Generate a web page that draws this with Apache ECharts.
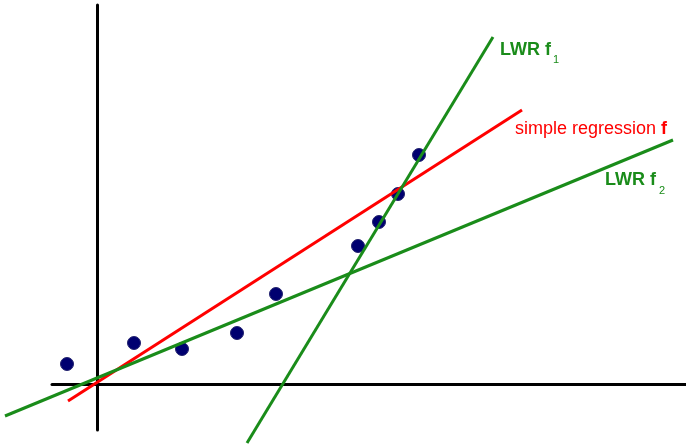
<!DOCTYPE html>
<html>
<head>
<meta charset="utf-8">
<script src="https://cdn.jsdelivr.net/npm/echarts@6/dist/echarts.min.js"></script>
<style>
  html, body { margin: 0; padding: 0; background: #ffffff; }
  #chart { width: 686px; height: 448px; }
</style>
</head>
<body>
<div id="chart"></div>
<script>
// Observed samples (x, y)
const samplePoints = [
  [-30, 20], [37, 41], [85, 35], [140, 51], [179, 90],
  [261, 138], [282, 162], [301, 190], [322, 229]
];

// Fitted lines, each given by its two end points
const simpleRegression = [[-29, -17], [425, 274]];
const lwrF1 = [[150, -59], [396, 347]];
const lwrF2 = [[-92, -32], [576, 244]];

// Drawn extent of the black axes
const xAxisRange = [-45, 589];
const yAxisRange = [-46, 379];
// Plotting extent for the marks (same scale, reaching to the left edge)
const xPlotRange = [-97, 589];

const GREEN = '#1a8c1a';
const RED = '#ff0000';
const FONT = '"Liberation Sans", Arial, sans-serif';

const chart = echarts.init(document.getElementById('chart'), null, { renderer: 'canvas' });

function fitLine(name, data, color) {
  return {
    name: name,
    type: 'line',
    xAxisIndex: 1,
    yAxisIndex: 1,
    data: data,
    symbol: 'none',
    clip: false,
    z: 3,
    lineStyle: { color: color, width: 3 },
    silent: true
  };
}

const hiddenAxisParts = {
  axisTick: { show: false },
  axisLabel: { show: false },
  splitLine: { show: false }
};
const blackLine = { show: true, onZero: true, lineStyle: { color: '#000000', width: 3 } };

chart.setOption({
  animation: false,
  backgroundColor: '#ffffff',
  grid: [
    { left: 52, right: 0, top: 5, bottom: 18 },
    { left: 0, right: 0, top: 5, bottom: 18 }
  ],
  xAxis: [
    Object.assign({ type: 'value', gridIndex: 0, min: xAxisRange[0], max: xAxisRange[1], axisLine: blackLine }, hiddenAxisParts),
    Object.assign({ type: 'value', gridIndex: 1, min: xPlotRange[0], max: xPlotRange[1], axisLine: { show: false } }, hiddenAxisParts)
  ],
  yAxis: [
    Object.assign({ type: 'value', gridIndex: 0, min: yAxisRange[0], max: yAxisRange[1], axisLine: blackLine }, hiddenAxisParts),
    Object.assign({ type: 'value', gridIndex: 1, min: yAxisRange[0], max: yAxisRange[1], axisLine: { show: false } }, hiddenAxisParts)
  ],
  series: [
    {
      name: 'samples',
      type: 'scatter',
      xAxisIndex: 1,
      yAxisIndex: 1,
      data: samplePoints,
      symbol: 'circle',
      symbolSize: 13,
      z: 2,
      itemStyle: { color: '#000070', borderColor: '#22226e', borderWidth: 1, opacity: 1 }
    },
    fitLine('simple regression f', simpleRegression, RED),
    fitLine('LWR f1', lwrF1, GREEN),
    fitLine('LWR f2', lwrF2, GREEN)
  ],
  graphic: [
    {
      type: 'text', left: 500, top: 41, z: 10,
      style: { text: 'LWR f', fill: GREEN, font: 'bold 18px ' + FONT }
    },
    {
      type: 'text', left: 553, top: 54, z: 10,
      style: { text: '1', fill: GREEN, font: '11px ' + FONT }
    },
    {
      type: 'text', left: 515, top: 120, z: 10,
      style: {
        text: '{n|simple regression }{b|f}',
        rich: {
          n: { fill: RED, font: '18px ' + FONT },
          b: { fill: RED, font: 'bold 18px ' + FONT }
        }
      }
    },
    {
      type: 'text', left: 605, top: 171, z: 10,
      style: { text: 'LWR f', fill: GREEN, font: 'bold 18px ' + FONT }
    },
    {
      type: 'text', left: 659, top: 185, z: 10,
      style: { text: '2', fill: GREEN, font: '11px ' + FONT }
    }
  ]
});
</script>
</body>
</html>
